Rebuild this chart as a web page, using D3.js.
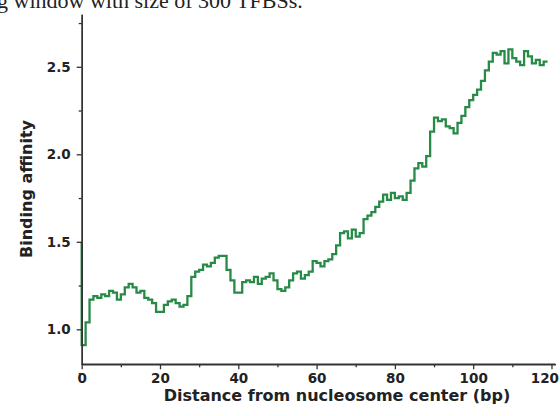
<!DOCTYPE html>
<html>
<head>
<meta charset="utf-8">
<script src="https://cdn.jsdelivr.net/npm/d3@7"></script>
<style>
  body { margin: 0; background: #fff; }
  svg { display: block; }
</style>
</head>
<body>
<script>
// data: value of each 1 bp step, starting at 0 bp
const startValue = 1.5;
const affinity = [
  0.91, 1.04, 1.17, 1.19, 1.18, 1.2, 1.19, 1.22, 1.21, 1.17,
  1.2, 1.24, 1.26, 1.24, 1.21, 1.22, 1.18, 1.17, 1.15, 1.1,
  1.1, 1.14, 1.16, 1.17, 1.15, 1.13, 1.14, 1.19, 1.3, 1.33,
  1.34, 1.37, 1.36, 1.38, 1.41, 1.42, 1.42, 1.34, 1.28, 1.21,
  1.21, 1.27, 1.28, 1.27, 1.3, 1.26, 1.29, 1.3, 1.32, 1.28,
  1.23, 1.22, 1.24, 1.28, 1.32, 1.33, 1.29, 1.31, 1.33, 1.39,
  1.38, 1.36, 1.39, 1.4, 1.43, 1.48, 1.55, 1.56, 1.52, 1.57,
  1.53, 1.55, 1.63, 1.65, 1.67, 1.7, 1.73, 1.77, 1.74, 1.78,
  1.75, 1.76, 1.74, 1.78, 1.85, 1.92, 1.95, 1.93, 1.99, 2.13,
  2.21, 2.19, 2.2, 2.16, 2.15, 2.12, 2.18, 2.22, 2.27, 2.31,
  2.34, 2.37, 2.42, 2.48, 2.53, 2.58, 2.57, 2.59, 2.52, 2.6,
  2.55, 2.53, 2.51, 2.59, 2.56, 2.52, 2.54, 2.51, 2.53
];
const xTicks = [0, 20, 40, 60, 80, 100, 120];
const xMinor = [10, 30, 50, 70, 90, 110];
const yTicks = [1.0, 1.5, 2.0, 2.5];
const yMinor = [0.75, 1.25, 1.75, 2.25, 2.75];

const width = 560,
  height = 416;

const svg = d3
  .select("body")
  .append("svg")
  .attr("width", width)
  .attr("height", height);

// scales
const xScale = d3.scaleLinear().domain([0, 121]).range([81.7, 555.4]);
const yScale = d3.scaleLinear().domain([0.8, 2.8]).range([364.3, 14.3]);

// caption fragment cut at the top of the picture (as in the source)
svg
  .append("text")
  .attr("x", -3)
  .attr("y", 8)
  .style("font-family", "Liberation Serif, serif")
  .style("font-size", "22px")
  .style("fill", "#222")
  .text("g window with size of 300 TFBSs.");

// line
const points = [{ x: 0, y: startValue }];
affinity.forEach((v, i) => points.push({ x: i, y: v }));
points.push({ x: affinity.length, y: affinity[affinity.length - 1] });

const line = d3
  .line()
  .x((d) => xScale(d.x))
  .y((d) => yScale(d.y))
  .curve(d3.curveStepAfter);

svg
  .append("path")
  .datum(points)
  .attr("d", line)
  .attr("fill", "none")
  .attr("stroke", "#288a47")
  .attr("stroke-width", 2.3);

// axes
const axisColor = "#333";
const fontFam = "DejaVu Sans, sans-serif";

const xAxis = svg
  .append("g")
  .attr("transform", "translate(0," + yScale(0.8) + ")")
  .call(d3.axisBottom(xScale).tickValues(xTicks).tickFormat(d3.format("d")).tickSize(5).tickPadding(4));

const xAxisMinor = svg
  .append("g")
  .attr("transform", "translate(0," + yScale(0.8) + ")")
  .call(d3.axisBottom(xScale).tickValues(xMinor).tickFormat("").tickSize(3).tickSizeOuter(0));

const yAxis = svg
  .append("g")
  .attr("transform", "translate(" + xScale(0) + ",0)")
  .call(d3.axisLeft(yScale).tickValues(yTicks).tickFormat(d3.format(".1f")).tickSize(5).tickPadding(6).tickSizeOuter(0));

const yAxisMinor = svg
  .append("g")
  .attr("transform", "translate(" + xScale(0) + ",0)")
  .call(d3.axisLeft(yScale).tickValues(yMinor).tickFormat("").tickSize(3).tickSizeOuter(0));

[xAxis, xAxisMinor, yAxis, yAxisMinor].forEach((g) => {
  g.select(".domain").attr("stroke", axisColor).attr("stroke-width", 1.4);
  g.selectAll(".tick line").attr("stroke", axisColor).attr("stroke-width", 1.3);
  g.selectAll(".tick text")
    .style("font-family", fontFam)
    .style("font-weight", "bold")
    .style("font-size", "13.5px")
    .attr("fill", "#222");
});
xAxis.select(".domain").attr("d", "M" + xScale(0) + ",0H" + xScale(121));
// last label sits against the right edge
xAxis
  .selectAll(".tick text")
  .filter((d) => d === 120)
  .attr("text-anchor", "end")
  .attr("x", 7);

// axis titles
svg
  .append("text")
  .attr("x", 337)
  .attr("y", 401)
  .attr("text-anchor", "middle")
  .style("font-family", fontFam)
  .style("font-weight", "bold")
  .style("font-size", "16px")
  .style("fill", "#222")
  .text("Distance from nucleosome center (bp)");

svg
  .append("text")
  .attr("transform", "translate(32,189) rotate(-90)")
  .attr("text-anchor", "middle")
  .style("font-family", fontFam)
  .style("font-weight", "bold")
  .style("font-size", "16px")
  .style("fill", "#222")
  .text("Binding affinity");
</script>
</body>
</html>
